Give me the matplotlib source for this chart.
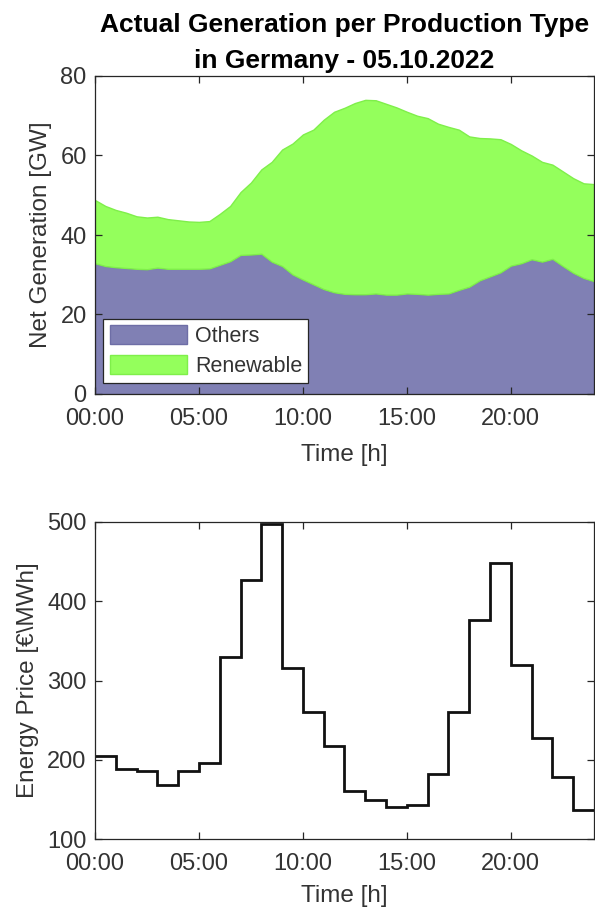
import numpy as np
import matplotlib
matplotlib.use("Agg")
import matplotlib.pyplot as plt

plt.rcParams['font.family'] = ['Liberation Sans', 'DejaVu Sans']

# ---- Data ----
gen_hours = [0.0, 0.5, 1.0, 1.5, 2.0, 2.5, 3.0, 3.5, 4.0, 4.5, 5.0, 5.5,
             6.0, 6.5, 7.0, 7.5, 8.0, 8.5, 9.0, 9.5, 10.0, 10.5, 11.0, 11.5,
             12.0, 12.5, 13.0, 13.5, 14.0, 14.5, 15.0, 15.5, 16.0, 16.5, 17.0, 17.5,
             18.0, 18.5, 19.0, 19.5, 20.0, 20.5, 21.0, 21.5, 22.0, 22.5, 23.0, 23.5, 24.0]
others = [32.9, 32.2, 31.9, 31.7, 31.5, 31.4, 31.8, 31.5, 31.5, 31.5, 31.5, 31.6,
          32.5, 33.4, 35.0, 35.1, 35.3, 33.3, 32.2, 30.1, 28.8, 27.6, 26.4, 25.6,
          25.2, 25.1, 25.1, 25.3, 25.0, 25.0, 25.3, 25.2, 25.0, 25.2, 25.3, 26.2,
          27.0, 28.6, 29.6, 30.6, 32.3, 32.9, 33.9, 33.3, 34.0, 32.2, 30.5, 29.2, 28.4]
renewable = [15.9, 15.1, 14.4, 13.9, 13.2, 13.0, 12.8, 12.5, 12.2, 11.9, 11.8, 11.9,
             12.8, 13.9, 15.8, 18.1, 21.2, 25.1, 29.3, 32.9, 36.5, 38.9, 42.6, 45.4,
             46.8, 48.1, 48.9, 48.6, 48.0, 47.1, 45.7, 44.8, 44.4, 42.8, 41.9, 40.3,
             37.8, 35.8, 34.7, 33.5, 30.6, 28.4, 26.1, 25.1, 23.7, 23.8, 23.8, 23.8, 24.4]

price_hours = list(range(25))
price = [205, 188, 186, 168, 186, 196, 330, 427, 497, 316, 260, 217,
         161, 149, 141, 143, 182, 260, 376, 448, 319, 227, 178, 137]

xtick_pos = [0, 5, 10, 15, 20]
xtick_labels = ['00:00', '05:00', '10:00', '15:00', '20:00']
series_names = ['Others', 'Renewable']
c_others = '#8080B4'
c_renew = '#94FF5C'

W, H = 595, 913
fig = plt.figure(figsize=(W / 100, H / 100), dpi=100)

def ax_rect(l, t, r, b):
    return [l / W, 1 - b / H, (r - l) / W, (b - t) / H]

axc = '#262626'
txtc = '#333333'
tick_fs = 17
lab_fs = 17.5

def style(ax):
    for s in ax.spines.values():
        s.set_color(axc)
        s.set_linewidth(0.9)
    ax.tick_params(direction='in', top=True, right=True, length=5, width=0.9,
                   colors=axc, labelcolor=txtc, labelsize=tick_fs)
    ax.tick_params(axis='x', pad=10)
    ax.tick_params(axis='y', pad=6)
    ax.set_xlim(0, 24)
    ax.set_xticks(xtick_pos)
    ax.set_xticklabels(xtick_labels)

# ---- Top: stacked area ----
ax1 = fig.add_axes(ax_rect(95, 76, 594, 394))
x = np.array(gen_hours)
o = np.array(others)
r = np.array(renewable)
ax1.fill_between(x, 0, o, facecolor=c_others, edgecolor='#6E6EA6', linewidth=1.0,
                 label=series_names[0])
ax1.fill_between(x, o, o + r, facecolor=c_renew, edgecolor='#7FEF4A', linewidth=1.0,
                 label=series_names[1])
style(ax1)
ax1.set_ylim(0, 80)
ax1.set_yticks([0, 20, 40, 60, 80])
ax1.set_xlabel('Time [h]', fontsize=lab_fs, color=txtc, labelpad=10)
ax1.set_ylabel('Net Generation [GW]', fontsize=lab_fs, color=txtc, labelpad=6)
ax1.set_title('Actual Generation per Production Type\nin Germany - 05.10.2022',
              fontsize=19, fontweight='bold', color='black', pad=6, linespacing=1.6)
leg = ax1.legend(loc='lower left', bbox_to_anchor=(0.0166, 0.034), borderaxespad=0,
                 fontsize=15.5, frameon=True, fancybox=False, framealpha=1,
                 edgecolor=axc, handlelength=3.6, handleheight=1.0,
                 handletextpad=0.35, borderpad=0.3, labelspacing=0.35)
leg.get_frame().set_linewidth(0.9)
for t in leg.get_texts():
    t.set_color(txtc)

# ---- Bottom: price steps ----
ax2 = fig.add_axes(ax_rect(95, 522, 594, 839))
ax2.stairs(price, price_hours, color='#111111', linewidth=2.0, baseline=None)
style(ax2)
ax2.set_ylim(100, 500)
ax2.set_yticks([100, 200, 300, 400, 500])
ax2.set_xlabel('Time [h]', fontsize=lab_fs, color=txtc, labelpad=7)
ax2.set_ylabel('Energy Price [€\\MWh]', fontsize=lab_fs, color=txtc, labelpad=6)

fig.savefig('out.png', dpi=100)
